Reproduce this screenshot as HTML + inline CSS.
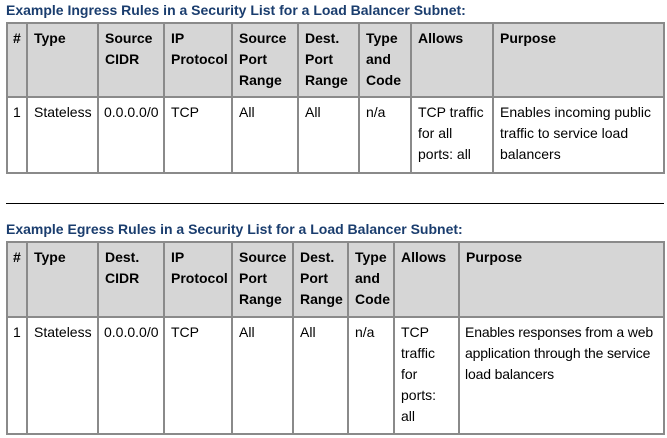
<!DOCTYPE html>
<html><head><meta charset="utf-8"><style>
body{margin:0;width:667px;height:438px;background:#fff;position:relative;font-family:"Liberation Sans",Arial,sans-serif;font-size:14px;color:#000;overflow:hidden}
.t{position:absolute;left:6px;font-weight:bold;color:#1a3d6e;font-size:14px;line-height:16px;white-space:nowrap}
.c{position:absolute;box-sizing:border-box;border:2px solid #8a8a8a;padding:4px 5px 0 6px;line-height:21px;overflow:hidden}
.h{background:#d6d6d6;font-weight:bold}
.hr{position:absolute;left:6px;width:658px;top:203px;height:1px;background:#000}
</style></head><body>
<div class="t" style="top:2px">Example Ingress Rules in a Security List for a Load Balancer Subnet:</div>
<div class="c h" style="left:6px;top:22px;width:22px;height:76px;padding-left:5px">#</div>
<div class="c h" style="left:26px;top:22px;width:73px;height:76px">Type</div>
<div class="c h" style="left:97px;top:22px;width:68px;height:76px">Source CIDR</div>
<div class="c h" style="left:163px;top:22px;width:70px;height:76px">IP Protocol</div>
<div class="c h" style="left:231px;top:22px;width:68px;height:76px">Source Port Range</div>
<div class="c h" style="left:297px;top:22px;width:63px;height:76px">Dest. Port Range</div>
<div class="c h" style="left:358px;top:22px;width:54px;height:76px">Type and Code</div>
<div class="c h" style="left:410px;top:22px;width:84px;height:76px">Allows</div>
<div class="c h" style="left:492px;top:22px;width:173px;height:76px">Purpose</div>
<div class="c" style="left:6px;top:96px;width:22px;height:78px;padding-left:5px">1</div>
<div class="c" style="left:26px;top:96px;width:73px;height:78px">Stateless</div>
<div class="c" style="left:97px;top:96px;width:68px;height:78px;padding-left:5px">0.0.0.0/0</div>
<div class="c" style="left:163px;top:96px;width:70px;height:78px">TCP</div>
<div class="c" style="left:231px;top:96px;width:68px;height:78px">All</div>
<div class="c" style="left:297px;top:96px;width:63px;height:78px">All</div>
<div class="c" style="left:358px;top:96px;width:54px;height:78px">n/a</div>
<div class="c" style="left:410px;top:96px;width:84px;height:78px">TCP traffic for all ports: all</div>
<div class="c" style="left:492px;top:96px;width:173px;height:78px">Enables incoming public traffic to service load balancers</div>

<div class="hr"></div>

<div class="t" style="top:221px">Example Egress Rules in a Security List for a Load Balancer Subnet:</div>
<div class="c h" style="left:6px;top:241px;width:22px;height:77px;padding-left:5px">#</div>
<div class="c h" style="left:26px;top:241px;width:73px;height:77px">Type</div>
<div class="c h" style="left:97px;top:241px;width:68px;height:77px">Dest. CIDR</div>
<div class="c h" style="left:163px;top:241px;width:70px;height:77px">IP Protocol</div>
<div class="c h" style="left:231px;top:241px;width:63px;height:77px">Source Port Range</div>
<div class="c h" style="left:292px;top:241px;width:57px;height:77px">Dest. Port Range</div>
<div class="c h" style="left:347px;top:241px;width:48px;height:77px">Type and Code</div>
<div class="c h" style="left:393px;top:241px;width:67px;height:77px">Allows</div>
<div class="c h" style="left:458px;top:241px;width:207px;height:77px">Purpose</div>
<div class="c" style="left:6px;top:316px;width:22px;height:119px;padding-left:5px">1</div>
<div class="c" style="left:26px;top:316px;width:73px;height:119px">Stateless</div>
<div class="c" style="left:97px;top:316px;width:68px;height:119px;padding-left:5px">0.0.0.0/0</div>
<div class="c" style="left:163px;top:316px;width:70px;height:119px">TCP</div>
<div class="c" style="left:231px;top:316px;width:63px;height:119px">All</div>
<div class="c" style="left:292px;top:316px;width:57px;height:119px">All</div>
<div class="c" style="left:347px;top:316px;width:48px;height:119px">n/a</div>
<div class="c" style="left:393px;top:316px;width:67px;height:119px">TCP traffic for ports: all</div>
<div class="c" style="left:458px;top:316px;width:207px;height:119px;padding-right:0;padding-left:5px;letter-spacing:-0.15px">Enables responses from a web application through the service load balancers</div>
</body></html>
